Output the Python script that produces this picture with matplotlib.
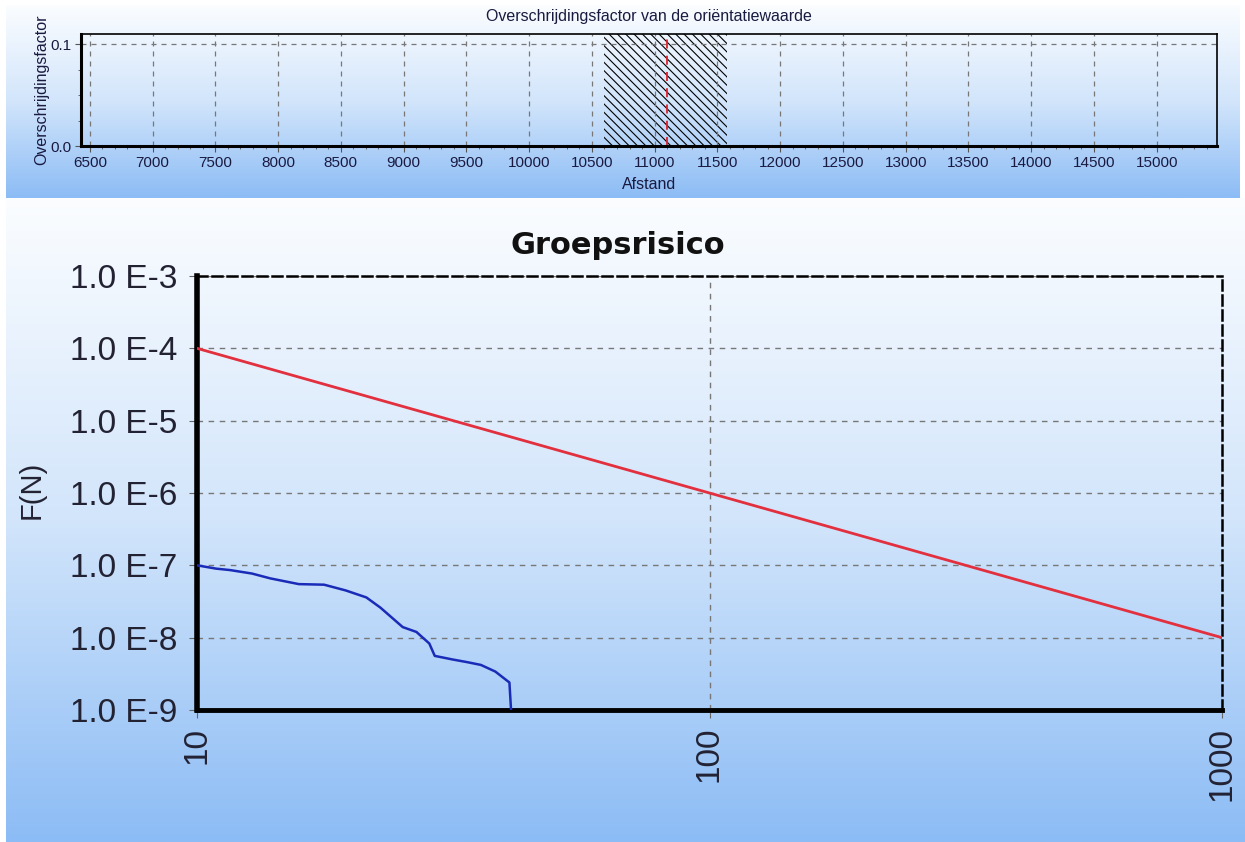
import numpy as np
import matplotlib
matplotlib.use('Agg')
import matplotlib.pyplot as plt
from matplotlib.colors import LinearSegmentedColormap
from matplotlib.ticker import FixedLocator, MultipleLocator, FuncFormatter

# gegevens bovenste grafiek (overschrijdingsfactor)
afstand_ticks = list(range(6500, 15001, 500))
hatch_start = 10600
hatch_end = 11580
orientatie_afstand = 11100

# groepsrisico: orientatiewaarde (rood) en berekende fN-curve (blauw)
ow_N = [10, 100, 1000]
ow_F = [1.0e-4, 1.0e-6, 1.0e-8]
gr_N = [10.0, 10.9, 11.6, 12.8, 13.9, 15.8, 17.7, 19.5, 21.4, 22.8, 25.2,
        26.8, 28.4, 29.1, 31.5, 33.6, 35.8, 38.2, 40.7, 41.0]
gr_F = [1.0e-7, 9.0e-8, 8.6e-8, 7.7e-8, 6.6e-8, 5.5e-8, 5.4e-8, 4.5e-8,
        3.6e-8, 2.6e-8, 1.4e-8, 1.2e-8, 8.3e-9, 5.6e-9, 5.0e-9, 4.6e-9,
        4.2e-9, 3.4e-9, 2.4e-9, 1.0e-9]
fn_labels = {1e-3: '1.0 E-3', 1e-4: '1.0 E-4', 1e-5: '1.0 E-5', 1e-6: '1.0 E-6',
             1e-7: '1.0 E-7', 1e-8: '1.0 E-8', 1e-9: '1.0 E-9'}

W, H = 1245, 842
fig = plt.figure(figsize=(W / 100, H / 100), dpi=100)
fig.patch.set_facecolor('white')
plt.rcParams['font.family'] = ['Liberation Sans', 'DejaVu Sans']
plt.rcParams['hatch.linewidth'] = 0.8

grad = LinearSegmentedColormap.from_list('bg', ['#fbfdff', '#d2e5fb', '#8cbcf5'])


def panel(x0, y0, x1, y1):
    # achtergrond met kleurverloop (pixelcoördinaten, y van boven)
    bg = fig.add_axes([x0 / W, 1 - y1 / H, (x1 - x0) / W, (y1 - y0) / H], zorder=-10)
    bg.imshow(np.linspace(0, 1, 256).reshape(-1, 1), cmap=grad, aspect='auto',
              extent=[0, 1, 0, 1])
    bg.axis('off')


panel(6, 5, 1240, 198)
panel(6, 198, 1245, 842)

# ---------- bovenste grafiek ----------
ax1 = fig.add_axes([81 / W, 1 - 146 / H, 1136 / W, 112 / H])
ax1.patch.set_alpha(0)
ax1.set_xlim(6430, 15480)
ax1.set_ylim(0, 0.11)
ax1.xaxis.set_major_locator(FixedLocator(afstand_ticks))
ax1.xaxis.set_minor_locator(MultipleLocator(100))
ax1.yaxis.set_major_locator(FixedLocator([0.0, 0.1]))
ax1.yaxis.set_minor_locator(MultipleLocator(0.025))
ax1.yaxis.set_major_formatter(FuncFormatter(lambda v, p: f'{v:.1f}'))
ax1.grid(True, which='major', color='#777777', linestyle=(0, (4, 4)), linewidth=0.9)
ax1.axvspan(hatch_start, hatch_end, facecolor='none', edgecolor='black',
            hatch='\\\\\\\\', linewidth=0)
ax1.axvline(orientatie_afstand, color='#e0202a', linestyle=(0, (5, 4)), linewidth=1.3)
for s in ['top', 'right']:
    ax1.spines[s].set_linewidth(1.2)
for s in ['left', 'bottom']:
    ax1.spines[s].set_linewidth(2.2)
ax1.tick_params(axis='both', which='major', labelsize=11, length=4, color='#555555',
                labelcolor='#1a1a40', pad=3)
ax1.tick_params(axis='both', which='minor', length=2.5, color='#555555')
ax1.set_title('Overschrijdingsfactor van de oriëntatiewaarde', fontsize=11.5,
              color='#1a1a40', pad=9)
ax1.set_xlabel('Afstand', fontsize=11.5, color='#1a1a40', labelpad=5)
ax1.set_ylabel('Overschrijdingsfactor', fontsize=11.5, color='#1a1a40', labelpad=1)

# ---------- groepsrisico ----------
ax2 = fig.add_axes([197 / W, 1 - 710 / H, 1025 / W, 434 / H])
ax2.patch.set_alpha(0)
ax2.set_xscale('log')
ax2.set_yscale('log')
ax2.set_xlim(10, 1000)
ax2.set_ylim(1e-9, 1e-3)
ax2.plot(ow_N, ow_F, color='#e2303e', linewidth=2.0, zorder=3)
ax2.plot(gr_N, gr_F, color='#1a2bb8', linewidth=1.8, zorder=3)
ax2.xaxis.set_major_locator(FixedLocator([10, 100, 1000]))
ax2.xaxis.set_major_formatter(FuncFormatter(lambda v, p: f'{v:.0f}'))
ax2.yaxis.set_major_locator(FixedLocator(list(fn_labels.keys())))
ax2.yaxis.set_major_formatter(FuncFormatter(lambda v, p: fn_labels.get(
    min(fn_labels, key=lambda k: abs(np.log10(k) - np.log10(v))), '')))
ax2.xaxis.set_minor_locator(FixedLocator([]))
ax2.yaxis.set_minor_locator(FixedLocator([]))
ax2.grid(True, which='major', color='#777777', linestyle=(0, (4, 4)), linewidth=1.0)
ax2.spines['top'].set_linestyle((0, (4, 2)))
ax2.spines['right'].set_linestyle((0, (4, 2)))
ax2.spines['top'].set_linewidth(1.8)
ax2.spines['right'].set_linewidth(1.8)
ax2.spines['left'].set_linewidth(4)
ax2.spines['bottom'].set_linewidth(3.5)
ax2.tick_params(axis='both', which='major', labelsize=24, length=6, color='#666666',
                labelcolor='#222233')
ax2.tick_params(axis='y', pad=8)
ax2.tick_params(axis='x', labelrotation=90, pad=6)
fig.text(618 / W, 1 - 245 / H, 'Groepsrisico', fontsize=22, fontweight='bold',
         color='#111111', family=['DejaVu Sans'], ha='center', va='center')
fig.text(32 / W, 1 - 490 / H, 'F(N)', fontsize=21, color='#222233', rotation=90,
         ha='center', va='center')

fig.savefig('out.png', dpi=100, facecolor=fig.get_facecolor())
